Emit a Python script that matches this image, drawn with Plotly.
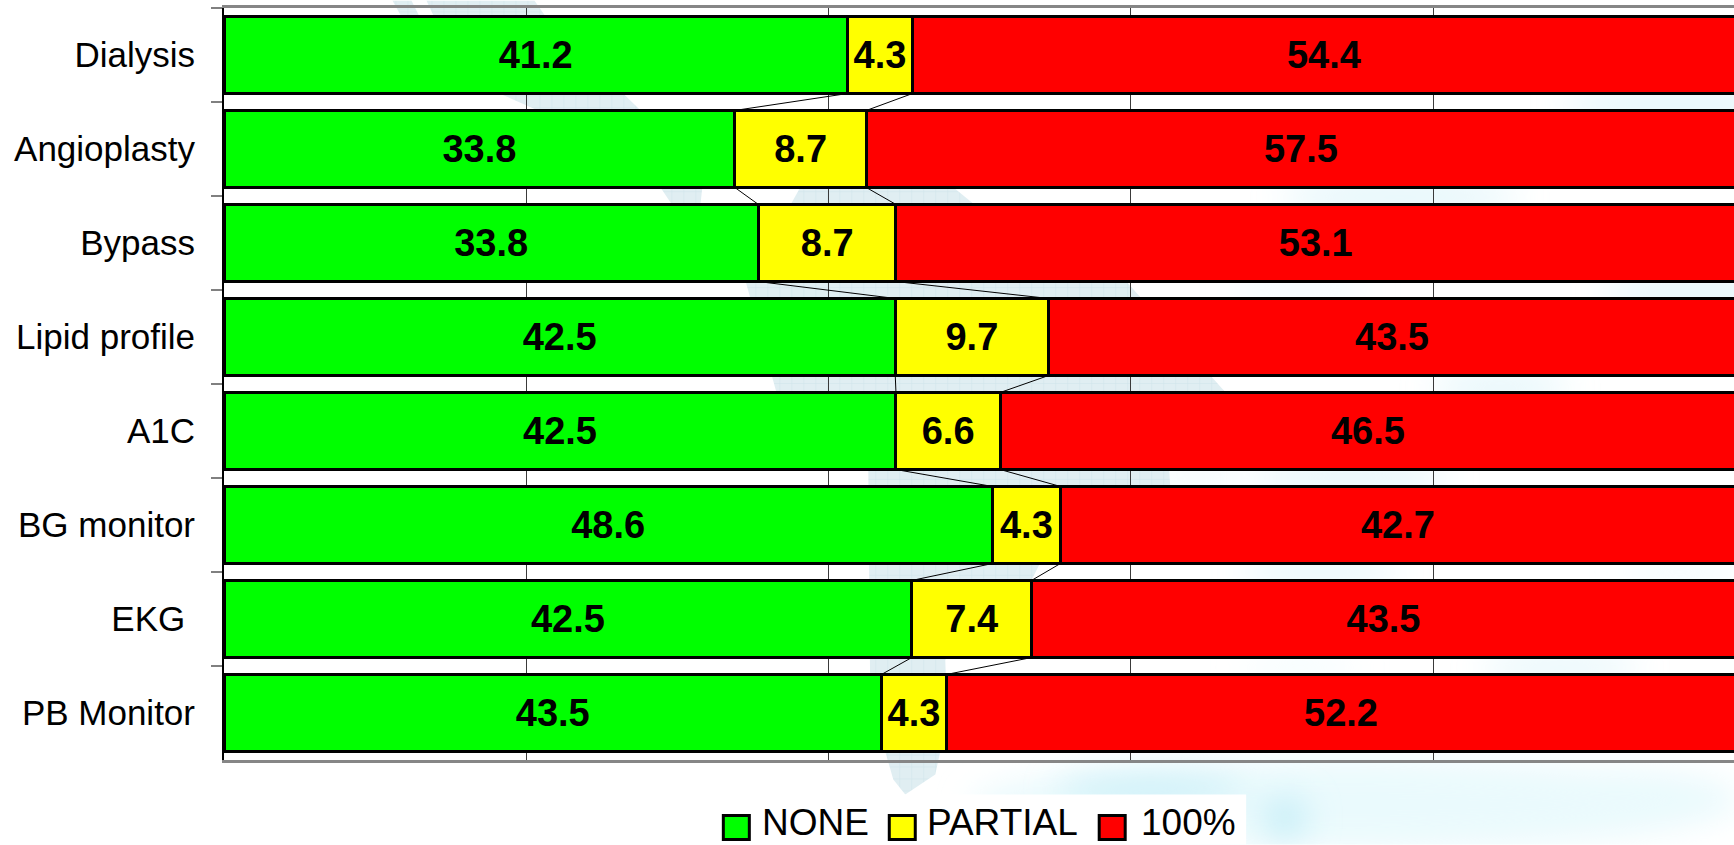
import base64
import plotly.graph_objects as go

categories = ["Dialysis", "Angioplasty", "Bypass", "Lipid profile", "A1C", "BG monitor", "EKG\u00a0", "PB Monitor"]
none_values = [41.2, 33.8, 33.8, 42.5, 42.5, 48.6, 42.5, 43.5]
partial_values = [4.3, 8.7, 8.7, 9.7, 6.6, 4.3, 7.4, 4.3]
full_values = [54.4, 57.5, 53.1, 43.5, 46.5, 42.7, 43.5, 52.2]
series_names = ["NONE", "PARTIAL", "100%"]
series_colors = ["#00FF00", "#FFFF00", "#FF0000"]

W, H = 1734, 845
L, R, T, B = 223.5, 1734, 7.5, 760.5
FONT = "Liberation Sans, Arial, sans-serif"
BAR_WIDTH = 0.82


def px(x):
    return (x - L) / (R - L)


def py(y):
    return (B - y) / (B - T)


# Faint watermark behind the chart (map outline and soft cyan washes)
strong_blobs = [
    (1150, 790, 95, 12), (1285, 818, 22, 22), (1680, 105, 120, 8), (1400, 197, 120, 8),
    (1700, 292, 100, 8), (1500, 388, 70, 7), (1350, 478, 100, 7), (1320, 572, 80, 6),
    (1560, 668, 80, 6),
]
pale_blobs = [
    (1350, 805, 380, 45), (1300, 290, 70, 8), (1680, 572, 60, 7), (1300, 668, 60, 6),
    (1200, 475, 50, 8), (1620, 800, 120, 30),
]


def ellipse_tags(items):
    return "".join(f'<ellipse cx="{x}" cy="{y}" rx="{a}" ry="{b}"/>' for x, y, a, b in items)


map_parts = [
    "392,0 411,0 420,18 402,18",
    "426,0 534,0 548,20 640,110 537,110 499,93 440,30",
    "660,187 702,187 700,205 672,205",
    "800,187 953,187 975,205 790,205",
    "745,280 1125,280 1225,392 1169,470 1170,486 1040,563 1032,579 945,660 947,720 935,775 905,795 893,780 "
    "870,700 868,470 776,392",
]
polys = "".join(f'<polygon points="{p}"/>' for p in map_parts)
svg = (
    f'<svg xmlns="http://www.w3.org/2000/svg" width="{W}" height="{H}" viewBox="0 0 {W} {H}">'
    '<defs><filter id="b" x="-60%" y="-120%" width="220%" height="340%">'
    '<feGaussianBlur stdDeviation="16"/></filter>'
    '<pattern id="g" width="12" height="12" patternUnits="userSpaceOnUse">'
    '<rect width="12" height="12" fill="#e0eef2"/><path d="M12 0V12M0 12H12" stroke="#cfe4ea" stroke-width="1"/>'
    '</pattern></defs>'
    f'<g fill="#eafafd" filter="url(#b)">{ellipse_tags(pale_blobs)}</g>'
    f'<g fill="#c8eef7" filter="url(#b)">{ellipse_tags(strong_blobs)}</g>'
    f'<g fill="url(#g)">{polys}</g></svg>'
)
bg_source = "data:image/svg+xml;base64," + base64.b64encode(svg.encode()).decode()

fig = go.Figure()
for name, values, color in zip(series_names, [none_values, partial_values, full_values], series_colors):
    fig.add_bar(
        name=name,
        y=categories,
        x=values,
        orientation="h",
        marker=dict(color=color, line=dict(color="#000000", width=3)),
        text=[f"{v:.1f}" for v in values],
        textposition="inside",
        insidetextanchor="middle",
        textangle=0,
        constraintext="none",
        textfont=dict(family=FONT, size=38, color="#000000", weight="bold"),
        showlegend=False,
    )

shapes = []
# Series lines joining the stacked segments of adjacent bars
for i in range(len(categories) - 1):
    tot_a = none_values[i] + partial_values[i] + full_values[i]
    tot_b = none_values[i + 1] + partial_values[i + 1] + full_values[i + 1]
    for cum_a, cum_b in [
        (none_values[i], none_values[i + 1]),
        (none_values[i] + partial_values[i], none_values[i + 1] + partial_values[i + 1]),
    ]:
        shapes.append(dict(
            type="line", xref="x", yref="y", layer="above",
            x0=cum_a / tot_a * 100, x1=cum_b / tot_b * 100,
            y0=i + BAR_WIDTH / 2, y1=i + 1 - BAR_WIDTH / 2,
            line=dict(color="#000000", width=1),
        ))

# White panel behind the key
shapes.append(dict(
    type="rect", xref="paper", yref="paper", layer="below",
    x0=px(716), x1=px(1246), y0=py(845), y1=py(795),
    fillcolor="#FFFFFF", line=dict(width=0),
))

annotations = []
swatch_x = [722, 888, 1098]
label_x = [763, 928, 1142]
for name, color, sx, lx in zip(series_names, series_colors, swatch_x, label_x):
    shapes.append(dict(
        type="rect", xref="paper", yref="paper", layer="above",
        x0=px(sx + 1), x1=px(sx + 27), y0=py(840), y1=py(816),
        fillcolor=color, line=dict(color="#000000", width=3),
    ))
    annotations.append(dict(
        xref="paper", yref="paper", x=px(lx), y=py(823), xanchor="left", yanchor="middle",
        text=name, showarrow=False, xshift=-3,
        font=dict(family=FONT, size=37, color="#000000"),
    ))

fig.update_layout(
    width=W, height=H,
    margin=dict(l=L, r=W - R, t=T, b=H - B, pad=0, autoexpand=False),
    paper_bgcolor="#FFFFFF", plot_bgcolor="rgba(0,0,0,0)",
    barmode="stack", barnorm="percent", bargap=1 - BAR_WIDTH,
    shapes=shapes, annotations=annotations,
    images=[dict(
        source=bg_source, xref="paper", yref="paper", layer="below",
        x=px(0), y=py(0), sizex=W / (R - L), sizey=H / (B - T),
        xanchor="left", yanchor="top", sizing="stretch",
    )],
    xaxis=dict(
        range=[0, 99.9], tickvals=[0, 20, 40, 60, 80], showticklabels=False, ticks="",
        showgrid=True, gridcolor="#3a3a3a", gridwidth=1, zeroline=False,
        showline=True, linecolor="#868686", linewidth=3, mirror=True,
    ),
    yaxis=dict(
        type="category", categoryorder="array", categoryarray=categories,
        range=[len(categories) - 0.5, -0.5],
        tickson="boundaries", ticks="outside", ticklen=11, tickwidth=2, tickcolor="#808080",
        ticklabelstandoff=20,
        tickfont=dict(family=FONT, size=35, color="#000000"),
        showgrid=False, zeroline=False,
        showline=True, linecolor="#000000", linewidth=2,
    ),
)

fig.write_html(
    "out.html",
    config=dict(displayModeBar=False),
    post_script="document.body.style.margin='0';document.body.style.overflow='hidden';",
)
